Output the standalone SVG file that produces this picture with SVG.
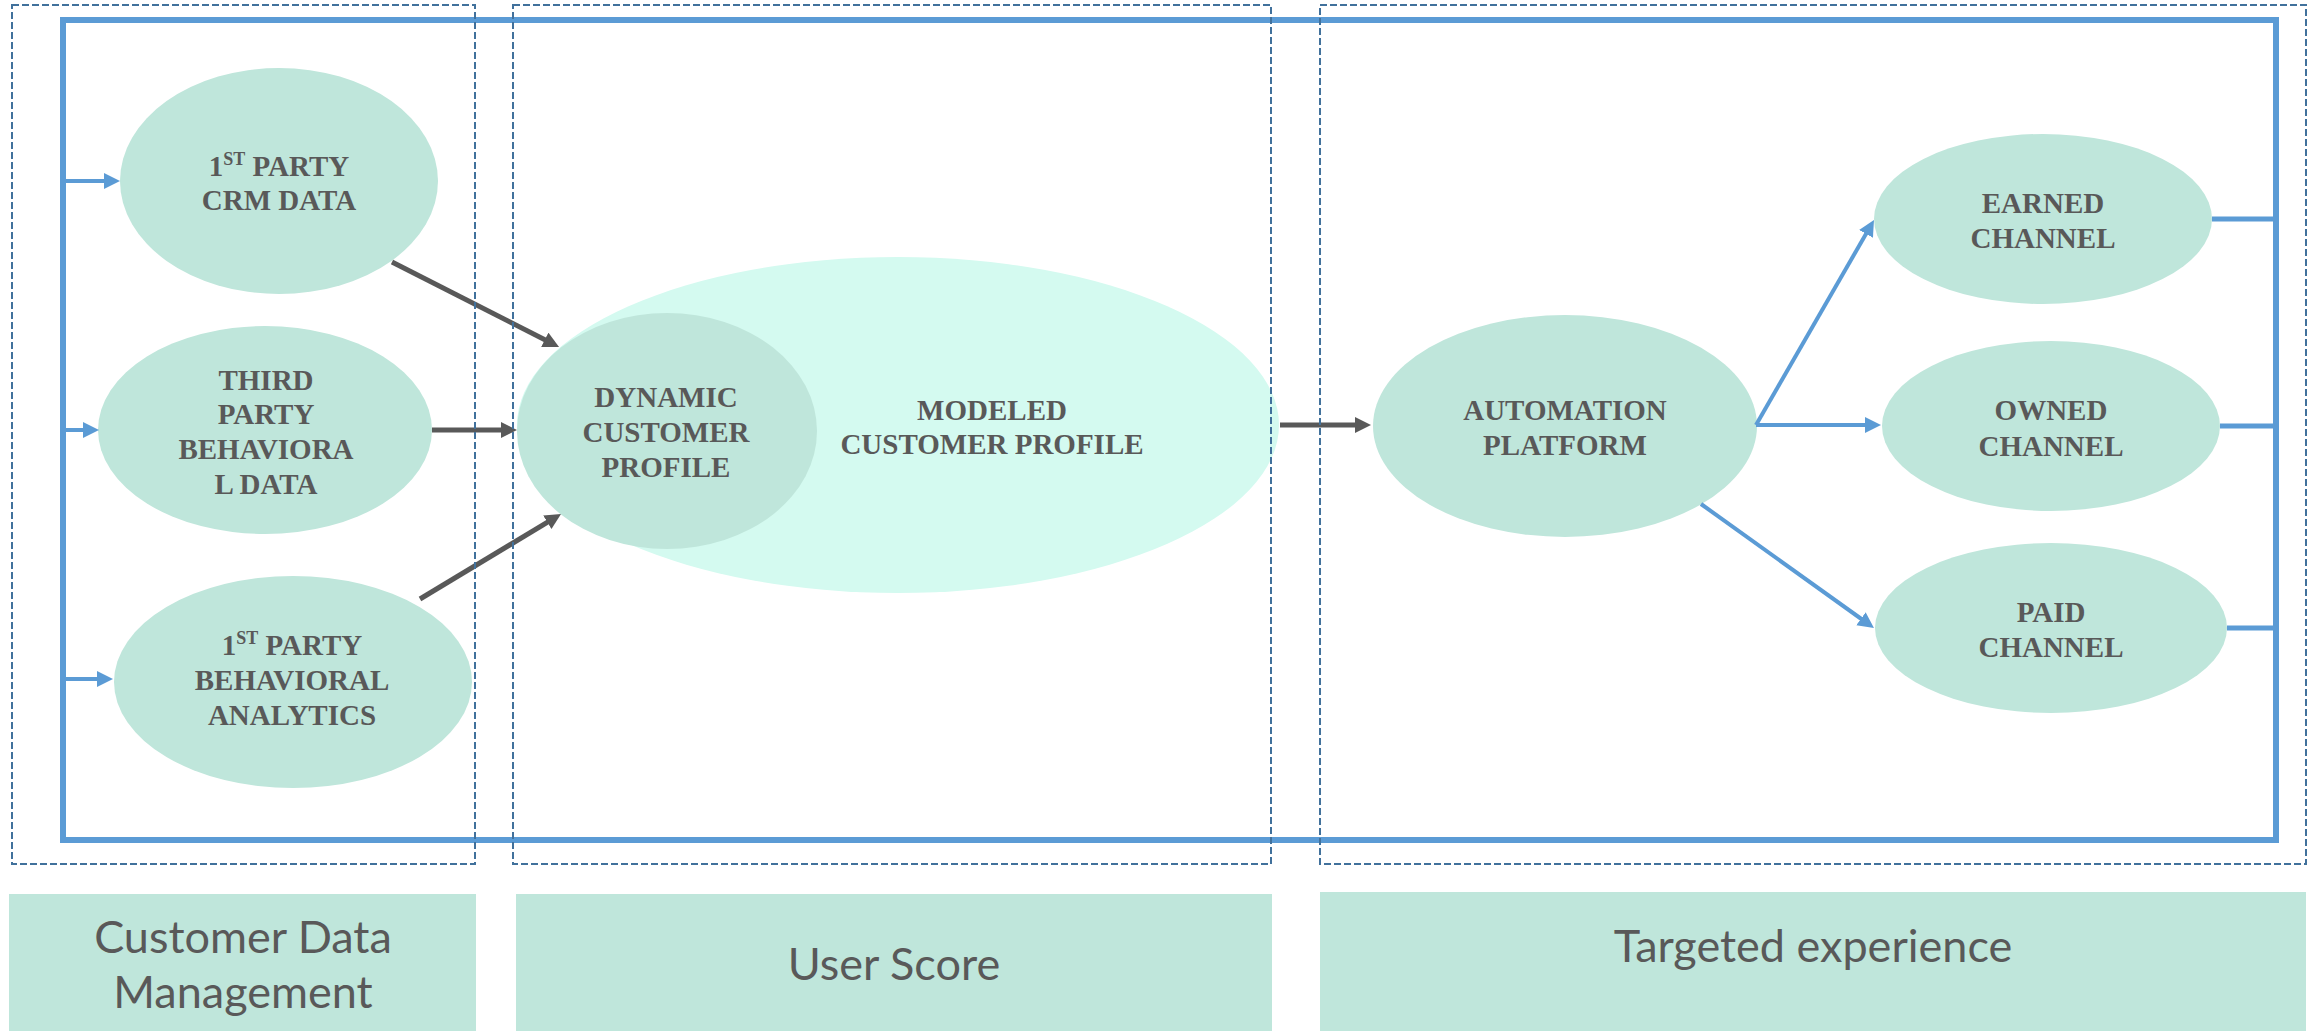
<svg xmlns="http://www.w3.org/2000/svg" width="2318" height="1031" viewBox="0 0 2318 1031">
<defs>
<style>
.node{fill:#BFE6DB}
.t{font-family:"Liberation Serif","Times New Roman",serif;font-weight:bold;font-size:29px;fill:#595959;text-anchor:middle}
.lbl{font-family:Lato,"Open Sans",sans-serif;font-size:45px;fill:#595959;text-anchor:middle}
.gray{stroke:#595959;stroke-width:5;fill:none;marker-end:url(#ag)}
.blue{stroke:#5B9BD5;stroke-width:4;fill:none;marker-end:url(#ab)}
.bline{stroke:#5B9BD5;stroke-width:5;fill:none}
.dash{fill:none;stroke:#41719C;stroke-width:2;stroke-dasharray:7 3}
</style>
<marker id="ag" markerUnits="userSpaceOnUse" markerWidth="18" markerHeight="18" refX="10" refY="8" orient="auto"><path d="M0,0 L16,8 L0,16 z" fill="#595959"/></marker>
<marker id="ab" markerUnits="userSpaceOnUse" markerWidth="18" markerHeight="18" refX="10" refY="8" orient="auto"><path d="M0,0 L16,8 L0,16 z" fill="#5B9BD5"/></marker>
</defs>
<rect width="2318" height="1031" fill="#FFFFFF"/>
<g id="frame">
<rect x="63" y="20" width="2213" height="820" fill="none" stroke="#5B9BD5" stroke-width="6"/>
</g>
<g id="n-crm"><ellipse class="node" cx="279" cy="181" rx="159" ry="113"/>
<text class="t" x="279" y="176"><tspan>1</tspan><tspan font-size="18" dy="-11">ST</tspan><tspan dy="11"> PARTY</tspan></text>
<text class="t" x="279" y="210">CRM DATA</text></g>
<g id="n-third"><ellipse class="node" cx="265" cy="430" rx="167" ry="104"/>
<text class="t" x="266" y="390">THIRD</text>
<text class="t" x="266" y="424">PARTY</text>
<text class="t" x="266" y="459">BEHAVIORA</text>
<text class="t" x="266" y="494">L DATA</text></g>
<g id="n-analytics"><ellipse class="node" cx="293" cy="682" rx="179" ry="106"/>
<text class="t" x="292" y="655"><tspan>1</tspan><tspan font-size="18" dy="-11">ST</tspan><tspan dy="11"> PARTY</tspan></text>
<text class="t" x="292" y="690">BEHAVIORAL</text>
<text class="t" x="292" y="725">ANALYTICS</text></g>
<g id="n-modeled"><ellipse cx="898" cy="425" rx="381" ry="168" fill="#D4FAF0"/>
<text class="t" x="992" y="420">MODELED</text>
<text class="t" x="992" y="454">CUSTOMER PROFILE</text></g>
<g id="n-dynamic"><ellipse class="node" cx="667" cy="431" rx="150" ry="118"/>
<text class="t" x="666" y="407">DYNAMIC</text>
<text class="t" x="666" y="442">CUSTOMER</text>
<text class="t" x="666" y="477">PROFILE</text></g>
<g id="n-automation"><ellipse class="node" cx="1565" cy="426" rx="192" ry="111"/>
<text class="t" x="1565" y="420">AUTOMATION</text>
<text class="t" x="1565" y="455">PLATFORM</text></g>
<g id="n-earned"><ellipse class="node" cx="2043" cy="219" rx="169" ry="85"/>
<text class="t" x="2043" y="213">EARNED</text>
<text class="t" x="2043" y="248">CHANNEL</text></g>
<g id="n-owned"><ellipse class="node" cx="2051" cy="426" rx="169" ry="85"/>
<text class="t" x="2051" y="420">OWNED</text>
<text class="t" x="2051" y="456">CHANNEL</text></g>
<g id="n-paid"><ellipse class="node" cx="2051" cy="628" rx="176" ry="85"/>
<text class="t" x="2051" y="622">PAID</text>
<text class="t" x="2051" y="657">CHANNEL</text></g>
<g id="connectors">
<path class="blue" d="M66,181 H114"/>
<path class="blue" d="M66,430 H93"/>
<path class="blue" d="M66,679 H107"/>
<path class="gray" d="M392,262 L553.7,344.3"/>
<path class="gray" d="M432,430 H511"/>
<path class="gray" d="M420,599 L555.9,517.1"/>
<path class="gray" d="M1280,425 H1365"/>
<path class="blue" d="M1756,425 L1871,225.2"/>
<path class="blue" d="M1756,425 H1875"/>
<path class="blue" d="M1701,504 L1869.1,624.5"/>
<path class="bline" d="M2212,219 H2276"/>
<path class="bline" d="M2220,426 H2276"/>
<path class="bline" d="M2227,628 H2276"/>
</g>
<g id="sections">
<rect class="dash" x="12" y="5" width="463" height="859"/>
<rect class="dash" x="513" y="5" width="758" height="859"/>
<rect class="dash" x="1320" y="5" width="986" height="859"/>
</g>
<g id="label-cdm"><rect class="node" x="9" y="894" width="467" height="137"/>
<text class="lbl" x="243" y="953">Customer Data</text>
<text class="lbl" x="243" y="1008">Management</text></g>
<g id="label-score"><rect class="node" x="516" y="894" width="756" height="137"/>
<text class="lbl" x="894" y="980">User Score</text></g>
<g id="label-target"><rect class="node" x="1320" y="892" width="986" height="139"/>
<text class="lbl" x="1813" y="962">Targeted experience</text></g>
</svg>
